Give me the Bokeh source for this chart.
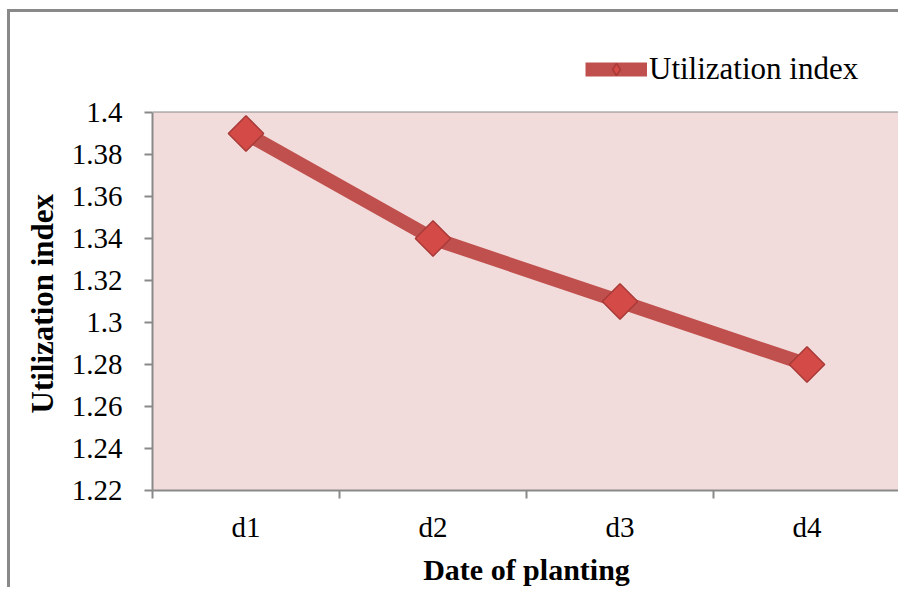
import math
from bokeh.plotting import figure
from bokeh.models import ColumnDataSource, FixedTicker, Legend, LegendItem, Range1d, BoxAnnotation, Title
from bokeh.embed import file_html
from bokeh.resources import INLINE

categories = ["d1", "d2", "d3", "d4"]
values = [1.39, 1.34, 1.31, 1.28]
y_ticks = [1.22, 1.24, 1.26, 1.28, 1.30, 1.32, 1.34, 1.36, 1.38, 1.40]
y_tick_labels = ["1.22", "1.24", "1.26", "1.28", "1.3", "1.32", "1.34", "1.36", "1.38", "1.4"]
series_name = "Utilization index"
x_title = "Date of planting"
y_title = "Utilization  index"

xs = [i + 0.5 for i in range(len(categories))]
src = ColumnDataSource(dict(x=xs, y=values))

FONT = "Liberation Serif"
GRAY = "#898989"
RED = "#C0504D"

OFF_X = 10
OFF_Y = 12
Y0, Y1 = y_ticks[0], y_ticks[-1]
PX_PER_UNIT = (490 - 112) / (Y1 - Y0)
FRAME_H = 490 - OFF_Y
y_top = Y0 + FRAME_H / PX_PER_UNIT

p = figure(width=901 - OFF_X, height=590 - OFF_Y, output_backend="svg", toolbar_location=None,
           x_range=Range1d(0, len(categories)), y_range=Range1d(Y0, y_top),
           min_border_left=152 - OFF_X, min_border_right=1, min_border_top=0,
           min_border_bottom=100, tools="")
p.styles = {"border-left": f"3px solid {GRAY}", "border-top": f"3px solid {GRAY}",
            "margin-left": "7px", "margin-top": "9px"}
p.background_fill_color = "white"
p.border_fill_color = "white"
p.outline_line_color = None

p.add_layout(BoxAnnotation(bottom=Y0, top=Y1, fill_color="#F2DCDB", fill_alpha=1,
                           line_color=None, level="underlay"))

line = p.line("x", "y", source=src, line_color=RED, line_width=14)
mk = p.scatter("x", "y", source=src, marker="square", size=25, angle=math.pi / 4,
               fill_color="#D44A47", line_color="#A83A38", line_width=1.5)
# legend-only marker, its single point lies outside the visible x range
mk_leg = p.scatter(x=[-10], y=[values[0]], marker="diamond", size=25,
                   fill_color="#D44A47", line_color="#A83A38", line_width=1.5)

# x axis
p.xaxis.ticker = FixedTicker(ticks=xs, minor_ticks=list(range(len(categories) + 1)))
p.xaxis.major_label_overrides = {x: c for x, c in zip(xs, categories)}
p.xaxis.major_tick_line_color = None
p.xaxis.minor_tick_line_color = GRAY
p.xaxis.minor_tick_line_width = 2
p.xaxis.minor_tick_out = 8
p.xaxis.minor_tick_in = 0
p.xaxis.axis_line_color = GRAY
p.xaxis.axis_line_width = 2
p.xaxis.major_label_text_font = FONT
p.xaxis.major_label_text_font_size = "29px"
p.xaxis.major_label_text_color = "black"
p.xaxis.major_label_standoff = 12
p.xaxis.axis_label = x_title
p.xaxis.axis_label_text_font = FONT
p.xaxis.axis_label_text_font_style = "bold"
p.xaxis.axis_label_text_font_size = "30px"
p.xaxis.axis_label_text_color = "black"
p.xaxis.axis_label_standoff = 7
p.xgrid.visible = False

# y axis
p.yaxis.ticker = FixedTicker(ticks=y_ticks, minor_ticks=[])
p.yaxis.bounds = (Y0, Y1)
p.yaxis.major_label_overrides = {t: l for t, l in zip(y_ticks, y_tick_labels)}
p.yaxis.major_tick_line_color = GRAY
p.yaxis.major_tick_line_width = 2
p.yaxis.major_tick_out = 8
p.yaxis.major_tick_in = 0
p.yaxis.axis_line_color = GRAY
p.yaxis.axis_line_width = 2
p.yaxis.major_label_text_font = FONT
p.yaxis.major_label_text_font_size = "29px"
p.yaxis.major_label_text_color = "black"
p.yaxis.major_label_standoff = 22
p.ygrid.ticker = FixedTicker(ticks=y_ticks)
p.ygrid.grid_line_color = GRAY
p.ygrid.grid_line_width = 2

ytitle = Title(text=y_title, align="left", offset=77, standoff=18,
               text_font=FONT, text_font_style="bold", text_font_size="31px", text_color="black")
p.add_layout(ytitle, "left")

legend = Legend(items=[LegendItem(label=series_name, renderers=[line, mk_leg])],
                location=(433, 403), background_fill_alpha=0, border_line_color=None,
                label_text_font=FONT, label_text_font_size="31px", label_text_color="black",
                glyph_width=62, glyph_height=30, label_standoff=2, padding=0, margin=0)
p.add_layout(legend)

open("out.html", "w").write(file_html(p, INLINE))
